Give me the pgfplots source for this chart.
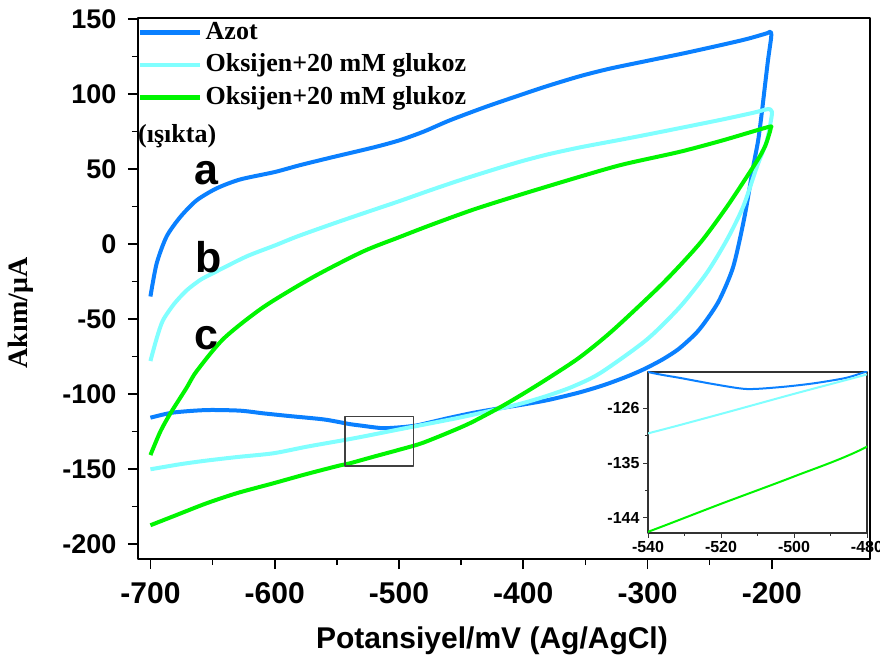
\documentclass[border=0pt]{standalone}
\usepackage{fontspec}
\setmainfont{Liberation Serif}
\newfontfamily\arial{Liberation Sans}
\usepackage{pgfplots}
\pgfplotsset{compat=1.18}
\usepackage{pgfplotstable}
\usetikzlibrary{calc}

\definecolor{cblue}{RGB}{10,128,255}
\definecolor{ccyan}{RGB}{128,255,255}
\definecolor{cgreen}{RGB}{0,245,0}

% a: Azot
\pgfplotstableread{
x y
-700 -35
-695 -13
-687 5
-676 18
-663 29
-647 37
-628 43
-600 48
-580 52.5
-553 58
-520 64.5
-499 69.3
-480 75
-459 82.5
-430 91.5
-400 100
-380 105.5
-354 112
-330 117
-301 122
-270 127.3
-239 133
-220 136.7
-204 140.5
-201 141.5
-200.5 138
-203 123
-205.6 105
-208 88
-211 69
-215 51.5
-222 18
-231 -15
-242 -37
-252 -50
-261 -59.5
-275 -70
-288 -77
-303 -83.5
-317 -88.5
-335 -94
-355 -99
-380 -104
-400 -107
-419 -109.5
-440 -112.5
-460 -116
-480 -119.9
-486 -121
-495 -121.9
-504 -122.5
-513 -122.8
-522 -122
-531 -121
-540 -120
-560 -117
-588 -114.7
-609 -112.9
-628 -111.1
-655 -110.7
-682 -112.4
-700 -115.8
}\tabA

% b: Oksijen + 20 mM glukoz
\pgfplotstableread{
x y
-700 -78
-695 -63
-690 -51
-681 -40
-671 -31
-660 -24
-650 -19.6
-623 -8.4
-600 -1
-582 5
-555 13
-529 20.4
-500 28.5
-475 35.8
-450 42.8
-420 50.6
-400 55.5
-380 59.8
-354 64.5
-320 69.8
-300 73
-274 77.3
-240 83
-215 87.5
-203 90
-200.5 89
-200 86
-204 69
-212 51.5
-223 25
-236 3
-252.5 -19.5
-274 -42
-301 -64
-338 -86
-360 -95
-380 -101
-400 -106
-419 -109.8
-450 -115.5
-480 -120.4
-500 -123.6
-520 -126.9
-540 -130.1
-574 -135.1
-601 -139.5
-630 -142
-655 -144.4
-676 -146.8
-700 -150.2
}\tabB

% c: Oksijen + 20 mM glukoz (isikta)
\pgfplotstableread{
x y
-700 -140.7
-692 -125
-684 -113
-671 -96
-663 -85
-641 -63
-609 -42
-569 -22
-529 -5
-500 4.5
-475 12.5
-440 23
-400 33.5
-354 45
-320 53
-274 61.5
-240 69
-203 78
-201 77.5
-201.5 75
-205 66
-210 58
-220 45
-236 25
-258 0.4
-287.5 -26
-327.6 -57.3
-354.5 -75.5
-380 -89.5
-400 -99.8
-419 -109
-445.6 -120.5
-480 -132.3
-500 -137.2
-520 -141.7
-540 -146.3
-547.5 -147.6
-575 -153.5
-601 -159.5
-630 -166
-655 -172.9
-680 -181
-700 -187.5
}\tabC

\begin{document}
\begin{tikzpicture}
\begin{axis}[
  name=main,
  scale only axis, width=732bp, height=541bp,
  xmin=-710, xmax=-121, ymin=-210, ymax=150.7,
  xtick={-700,-600,...,-200}, ytick={-200,-150,...,150},
  minor x tick num=1, minor y tick num=1,
  tick pos=left, tick align=outside,
  major tick length=10bp, minor tick length=6bp,
  axis line style={line width=1.6bp},
  every tick/.style={line width=1.6bp, black},
  /pgf/number format/assume math mode=true,
  xticklabel style={font=\arial\bfseries\fontsize{30bp}{30bp}\selectfont, yshift=-10bp},
  yticklabel style={font=\arial\bfseries\fontsize{27bp}{27bp}\selectfont, xshift=-8bp},
  xlabel={Potansiyel/mV (Ag/AgCl)},
  xlabel style={font=\arial\bfseries\fontsize{30bp}{30bp}\selectfont,
    at={(axis description cs:0.4836,-0.152)}, anchor=center},
  ylabel={Akım/μA},
  ylabel style={font=\bfseries\fontsize{28bp}{28bp}\selectfont,
    at={(axis description cs:-0.160,0.455)}, anchor=center},
  legend style={at={(axis description cs:0,1)}, anchor=north west,
    draw=none, fill=none, inner xsep=0bp, inner ysep=2bp,
    font=\bfseries\fontsize{26bp}{26bp}\selectfont,
    nodes={inner ysep=0bp, inner xsep=3bp, text height=19bp, text depth=6bp},
    row sep=7.5bp, cells={anchor=west}},
  legend image code/.code={\draw[#1, line width=4.5bp] (-3bp,0bp) -- (57bp,0bp);},
  line join=round,
]
\addplot[cblue, line width=4bp, smooth, tension=0.45] table {\tabA};
\addplot[ccyan, line width=4bp, smooth, tension=0.45] table {\tabB};
\addplot[cgreen, line width=4bp, smooth, tension=0.45] table {\tabC};
\legend{Azot, Oksijen+20 mM glukoz, Oksijen+20 mM glukoz}
\node[anchor=west, inner sep=0bp, font=\bfseries\fontsize{26bp}{26bp}\selectfont]
  at (axis description cs:0,0.782) {(ışıkta)};
\node[inner sep=0bp, font=\arial\bfseries\fontsize{43bp}{43bp}\selectfont] at (axis cs:-654.8,47.3) {a};
\node[inner sep=0bp, font=\arial\bfseries\fontsize{43bp}{43bp}\selectfont] at (axis cs:-653,-9) {b};
\node[inner sep=0bp, font=\arial\bfseries\fontsize{43bp}{43bp}\selectfont] at (axis cs:-654.6,-62.7) {c};
\draw[black!75, line width=1.2bp] (axis cs:-543.5,-148) rectangle (axis cs:-488.6,-115.1);
\end{axis}

\begin{axis}[
  at={($(main.south west)+(510bp,26bp)$)}, anchor=south west,
  scale only axis, width=219bp, height=161bp,
  xmin=-540, xmax=-480, ymin=-146.5, ymax=-120,
  xtick={-540,-520,-500,-480}, ytick={-144,-135,-126},
  minor x tick num=1, minor y tick num=1,
  tick pos=left, tick align=outside,
  major tick length=5bp, minor tick length=3bp,
  axis line style={line width=1.2bp, black!80},
  every tick/.style={line width=1bp, black!80},
  axis background/.style={fill=white},
  /pgf/number format/assume math mode=true,
  ticklabel style={font=\arial\bfseries\fontsize{16bp}{16bp}\selectfont},
  line join=round,
]
\addplot[cblue, line width=2bp, smooth, tension=0.45] table {\tabA};
\addplot[ccyan, line width=2bp, smooth, tension=0.45] table {\tabB};
\addplot[cgreen, line width=2bp, smooth, tension=0.45] table {\tabC};
\end{axis}

\pgfresetboundingbox
\path[use as bounding box] ($(main.south west)+(-138bp,-105bp)$) rectangle ($(main.north east)+(10bp,18bp)$);
\end{tikzpicture}
\end{document}
